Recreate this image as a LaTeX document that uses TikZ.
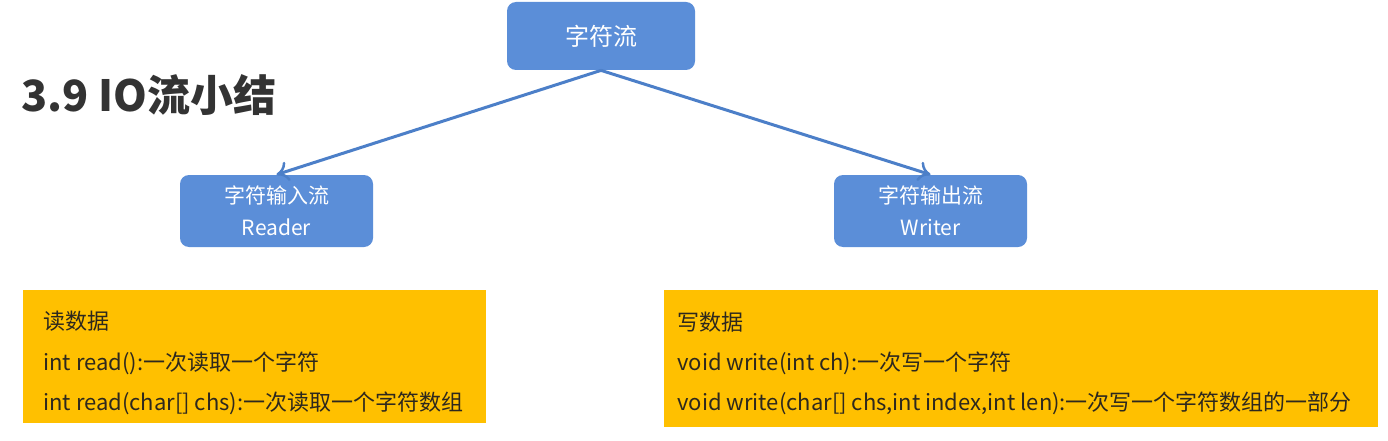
\documentclass[tikz,border=0pt]{standalone}
\usepackage{fontspec}
\setmainfont{Noto Sans CJK SC}
\usetikzlibrary{arrows.meta}

\definecolor{boxblue}{RGB}{91,142,216}
\definecolor{arrowblue}{RGB}{76,127,200}
\definecolor{boxyellow}{RGB}{255,192,0}
\definecolor{titlegray}{RGB}{51,51,51}
\definecolor{textdark}{RGB}{45,40,30}

\tikzset{every picture/.style={line width=0.75pt}}
\tikzset{
  streambox/.style={fill=boxblue,draw=none,rounded corners=9pt,text=white,align=center,font=\fontsize{21}{32}\selectfont,inner sep=0pt},
  notebox/.style={fill=boxyellow,draw=none,inner sep=0pt,anchor=north west},
  noteline/.style={anchor=west,inner sep=0pt,text=textdark,font=\fontsize{22}{26}\selectfont},
  flowarrow/.style={draw=arrowblue,line width=3pt,-{To[length=12pt,width=20pt,line width=2.5pt]}}
}

\begin{document}
\begin{tikzpicture}[x=1pt,y=1pt,yscale=-1]
\useasboundingbox (0,0) rectangle (1388,441);

%Rounded Rect [id:top]
\node [streambox,minimum width=188pt,minimum height=68pt,font=\fontsize{24}{30}\selectfont] (charstream) at (601,36) {字符流};
%Rounded Rect [id:reader]
\node [streambox,minimum width=193pt,minimum height=72pt] (reader) at (276.5,211) {字符输入流\\Reader};
%Rounded Rect [id:writer]
\node [streambox,minimum width=193pt,minimum height=72pt] (writer) at (930.5,211) {字符输出流\\Writer};

%Straight Lines
\draw [flowarrow] (charstream.south) -- (reader.north);
%Straight Lines
\draw [flowarrow] (charstream.south) -- (writer.north);

%Shape: Rectangle [id:readnote]
\node [notebox,minimum width=463pt,minimum height=133pt] (readnote) at (23,290) {};
%Shape: Rectangle [id:writenote]
\node [notebox,minimum width=714pt,minimum height=137pt] (writenote) at (664,290) {};

% Text Node
\node [anchor=west,inner sep=0pt,text=titlegray,font=\fontsize{43}{46}\selectfont\bfseries] (title) at (21,95) {3.9 IO流小结};

% Text Node
\node [noteline] (rd1) at (43,321) {读数据};
% Text Node
\node [noteline] (rd2) at (43,363) {int read():一次读取一个字符};
% Text Node
\node [noteline] (rd3) at (43,403) {int read(char[] chs):一次读取一个字符数组};

% Text Node
\node [noteline] (wr1) at (677,322) {写数据};
% Text Node
\node [noteline] (wr2) at (677,363) {void write(int ch):一次写一个字符};
% Text Node
\node [noteline] (wr3) at (677,403) {void write(char[] chs,int index,int len):一次写一个字符数组的一部分};

\end{tikzpicture}
\end{document}
